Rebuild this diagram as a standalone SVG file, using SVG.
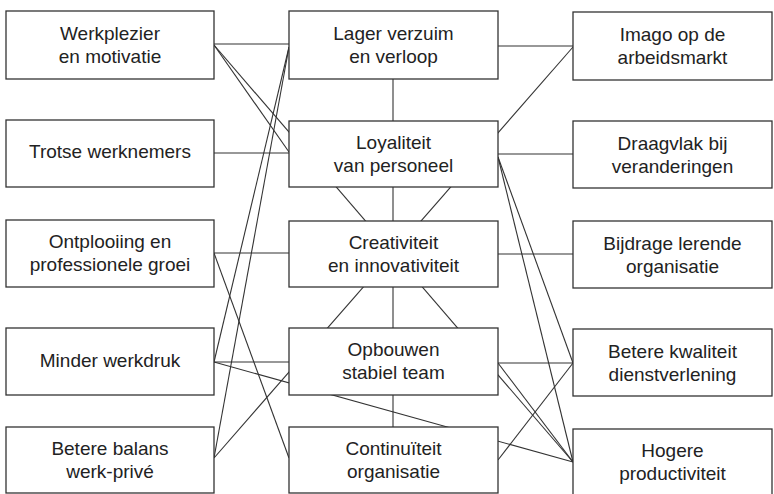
<svg xmlns="http://www.w3.org/2000/svg" width="774" height="494" viewBox="0 0 774 494">
<style>
.box{fill:#fff;stroke:#333;stroke-width:1.3}
.con line{stroke:#333;stroke-width:1.1}
text{font-family:"Liberation Sans",Arial,sans-serif;font-size:19px;fill:#222;text-anchor:middle}
</style>
<rect width="774" height="494" fill="#fff"/>
<g id="connectors" class="con">
<line x1="214" y1="44" x2="289" y2="44"/>
<line x1="214" y1="45" x2="289" y2="152"/>
<line x1="214" y1="45" x2="573" y2="462"/>
<line x1="214" y1="153" x2="289" y2="153"/>
<line x1="214" y1="253" x2="289" y2="253"/>
<line x1="214" y1="253" x2="289" y2="458"/>
<line x1="289" y1="47" x2="214" y2="362"/>
<line x1="289" y1="47" x2="214" y2="458"/>
<line x1="214" y1="362" x2="289" y2="362"/>
<line x1="214" y1="362" x2="573" y2="462"/>
<line x1="214" y1="458" x2="573" y2="47"/>
<line x1="498" y1="46" x2="573" y2="46"/>
<line x1="498" y1="154" x2="573" y2="154"/>
<line x1="498" y1="157" x2="573" y2="363"/>
<line x1="498" y1="157" x2="573" y2="462"/>
<line x1="498" y1="254" x2="573" y2="254"/>
<line x1="498" y1="363" x2="573" y2="363"/>
<line x1="498" y1="363" x2="573" y2="462"/>
<line x1="498" y1="460" x2="573" y2="363"/>
<line x1="393" y1="79" x2="393" y2="121"/>
<line x1="393" y1="187" x2="393" y2="221"/>
<line x1="393" y1="287" x2="393" y2="328"/>
<line x1="393" y1="395" x2="393" y2="427"/>
</g>
<g id="n-werkplezier"><rect class="box" x="6" y="11" width="208" height="68"/><text x="110" y="40">Werkplezier</text><text x="110" y="63">en motivatie</text></g>
<g id="n-trotse"><rect class="box" x="6" y="120" width="208" height="67"/><text x="110" y="158">Trotse werknemers</text></g>
<g id="n-ontplooiing"><rect class="box" x="6" y="220" width="208" height="67"/><text x="110" y="248">Ontplooiing en</text><text x="110" y="271">professionele groei</text></g>
<g id="n-minder"><rect class="box" x="6" y="328" width="208" height="67"/><text x="110" y="367">Minder werkdruk</text></g>
<g id="n-balans"><rect class="box" x="6" y="427" width="208" height="66"/><text x="110" y="455">Betere balans</text><text x="110" y="478">werk-privé</text></g>
<g id="n-lager"><rect class="box" x="289" y="11" width="209" height="68"/><text x="393.5" y="40">Lager verzuim</text><text x="393.5" y="63">en verloop</text></g>
<g id="n-loyaliteit"><rect class="box" x="289" y="121" width="209" height="66"/><text x="393.5" y="149">Loyaliteit</text><text x="393.5" y="172">van personeel</text></g>
<g id="n-creativiteit"><rect class="box" x="289" y="221" width="209" height="66"/><text x="393.5" y="249">Creativiteit</text><text x="393.5" y="272">en innovativiteit</text></g>
<g id="n-opbouwen"><rect class="box" x="289" y="328" width="209" height="67"/><text x="393.5" y="356">Opbouwen</text><text x="393.5" y="379">stabiel team</text></g>
<g id="n-continuiteit"><rect class="box" x="289" y="427" width="209" height="66"/><text x="393.5" y="455">Continuïteit</text><text x="393.5" y="478">organisatie</text></g>
<g id="n-imago"><rect class="box" x="573" y="12" width="199" height="68"/><text x="672.5" y="41">Imago op de</text><text x="672.5" y="64">arbeidsmarkt</text></g>
<g id="n-draagvlak"><rect class="box" x="573" y="121" width="199" height="67"/><text x="672.5" y="150">Draagvlak bij</text><text x="672.5" y="173">veranderingen</text></g>
<g id="n-bijdrage"><rect class="box" x="573" y="221" width="199" height="67"/><text x="672.5" y="250">Bijdrage lerende</text><text x="672.5" y="273">organisatie</text></g>
<g id="n-kwaliteit"><rect class="box" x="573" y="329" width="199" height="67"/><text x="672.5" y="358">Betere kwaliteit</text><text x="672.5" y="381">dienstverlening</text></g>
<g id="n-productiviteit"><rect class="box" x="573" y="429" width="199" height="66"/><text x="672.5" y="457">Hogere</text><text x="672.5" y="480">productiviteit</text></g>
</svg>
